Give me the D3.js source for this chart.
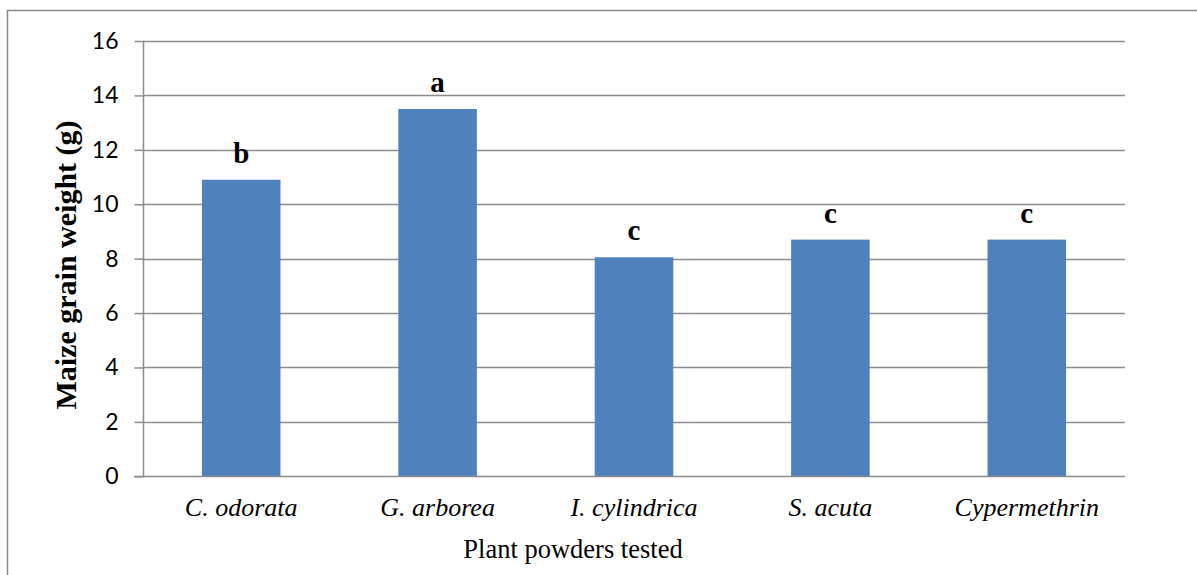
<!DOCTYPE html>
<meta charset="utf-8">
<style>
body {
	margin: 0;
	background: #fff;
}
svg {
	display: block;
}
</style>
<body>
<svg></svg>

<script src="https://d3js.org/d3.v7.min.js"></script>
<script>

var categories = ["C. odorata", "G. arborea", "I. cylindrica", "S. acuta", "Cypermethrin"];
var weights = [10.9, 13.5, 8.05, 8.7, 8.7];
var letters = ["b", "a", "c", "c", "c"];
var yTicks = [0, 2, 4, 6, 8, 10, 12, 14, 16];

var width = 1197, height = 575;
var margin = {top: 41, right: 72, bottom: 99, left: 143};
var serif = "'Liberation Serif', 'Times New Roman', serif";
var gridColor = "#8c8c8c";

var svg = d3.select("svg")
	.attr("width", width)
	.attr("height", height);

// outer frame
svg.append("rect")
	.attr("x", 7.5)
	.attr("y", 10.5)
	.attr("width", width)
	.attr("height", height)
	.attr("fill", "none")
	.attr("stroke", "#898989")
	.attr("stroke-width", 1.5);

var x = d3.scaleBand()
	.domain(categories)
	.range([margin.left, width - margin.right])
	.paddingInner(0.6)
	.paddingOuter(0.3);

var y = d3.scaleLinear()
	.domain([0, 16])
	.range([height - margin.bottom + 0.3, margin.top]);

// gridlines
svg.append("g")
	.selectAll("line")
	.data(yTicks.filter(function(d) { return d > 0; }))
	.join("line")
	.attr("x1", margin.left)
	.attr("x2", width - margin.right)
	.attr("y1", function(d) { return Math.round(y(d)) + 0.5; })
	.attr("y2", function(d) { return Math.round(y(d)) + 0.5; })
	.attr("stroke", gridColor)
	.attr("stroke-width", 1.5);

// y axis
var yAxis = d3.axisLeft(y)
	.tickValues(yTicks)
	.tickSize(9)
	.tickPadding(16)
	.tickFormat(d3.format("d"));

var yg = svg.append("g")
	.attr("transform", "translate(" + (margin.left + 0.5) + ",0)")
	.call(yAxis);
yg.select(".domain").attr("stroke", gridColor).attr("stroke-width", 1.5)
	.attr("d", "M0," + y(16) + "V" + y(0));
yg.selectAll(".tick line").attr("stroke", gridColor).attr("stroke-width", 1.5);
yg.selectAll(".tick text")
	.style("font-family", "Lato, 'Open Sans', sans-serif")
	.style("font-size", "23px")
	.attr("fill", "#000");

// bars
svg.append("g")
	.selectAll("rect")
	.data(weights)
	.join("rect")
	.attr("x", function(d, i) { return x(categories[i]); })
	.attr("width", x.bandwidth())
	.attr("y", function(d) { return y(d); })
	.attr("height", function(d) { return y(0) - y(d); })
	.attr("fill", "#4f81bd");

// x baseline
svg.append("line")
	.attr("x1", margin.left - 9)
	.attr("x2", width - margin.right)
	.attr("y1", Math.round(y(0)) + 0.5)
	.attr("y2", Math.round(y(0)) + 0.5)
	.attr("stroke", gridColor)
	.attr("stroke-width", 1.5);

// significance letters
svg.append("g")
	.selectAll("text")
	.data(letters)
	.join("text")
	.attr("x", function(d, i) { return x(categories[i]) + x.bandwidth() / 2; })
	.attr("y", function(d, i) { return y(weights[i]) - 17; })
	.attr("text-anchor", "middle")
	.style("font-family", serif)
	.style("font-weight", "bold")
	.style("font-size", "29px")
	.text(function(d) { return d; });

// category labels
svg.append("g")
	.selectAll("text")
	.data(categories)
	.join("text")
	.attr("x", function(d) { return x(d) + x.bandwidth() / 2; })
	.attr("y", 516)
	.attr("text-anchor", "middle")
	.style("font-family", serif)
	.style("font-style", "italic")
	.style("font-size", "26px")
	.text(function(d) { return d; });

// axis titles
svg.append("text")
	.attr("x", 573)
	.attr("y", 558)
	.attr("text-anchor", "middle")
	.style("font-family", serif)
	.style("font-size", "26.5px")
	.text("Plant powders tested");

svg.append("text")
	.attr("transform", "translate(76,265) rotate(-90)")
	.attr("text-anchor", "middle")
	.style("font-family", serif)
	.style("font-weight", "bold")
	.style("font-size", "30px")
	.text("Maize grain weight (g)");

</script>
</body>
